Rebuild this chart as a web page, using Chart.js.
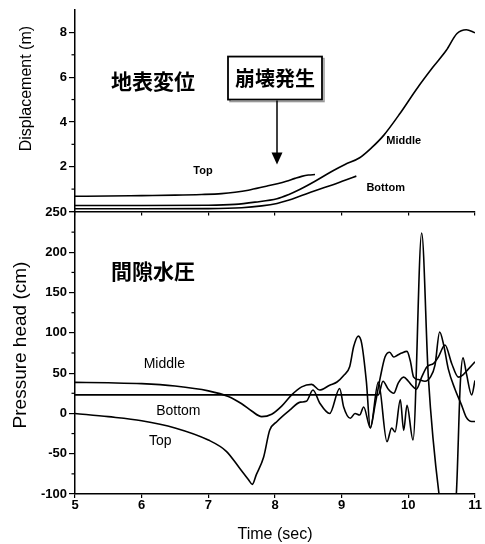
<!DOCTYPE html>
<html>
<head>
<meta charset="utf-8">
<script src="https://cdn.jsdelivr.net/npm/chart.js@4.4.1/dist/chart.umd.min.js"></script>
<style>
  body { margin: 0; background: #fff; }
  #wrap { position: relative; width: 485px; height: 544px; }
  #dispChart { position: absolute; left: 0; top: 0; }
  #pressChart { position: absolute; left: 0; top: 200px; }
</style>
</head>
<body>
<div id="wrap">
  <canvas id="dispChart" width="485" height="220"></canvas>
  <canvas id="pressChart" width="485" height="344"></canvas>
</div>
<script>
// axis ticks
const timeTicks = [5, 6, 7, 8, 9, 10, 11];
const dispTicks = [0, 2, 4, 6, 8];
const dispMinor = [1, 3, 5, 7];
const pressTicks = [-100, -50, 0, 50, 100, 150, 200, 250];
const pressMinor = [-75, -25, 25, 75, 125, 175, 225];

// surface displacement (m)
const dispTopT = [5, 5.5, 6, 6.5, 6.9, 7.2, 7.4, 7.6, 7.87, 8.05, 8.17, 8.3, 8.4, 8.5, 8.6];
const dispTopV = [0.68, 0.69, 0.71, 0.73, 0.76, 0.8, 0.86, 0.95, 1.13, 1.25, 1.35, 1.48, 1.57, 1.63, 1.65];
const dispMidT = [5, 6, 7, 7.4, 7.7, 8.03, 8.2, 8.37, 8.6, 8.87, 9.05, 9.27, 9.45, 9.63, 9.88, 10.12, 10.37, 10.57, 10.73, 10.87, 11];
const dispMidV = [0.27, 0.27, 0.28, 0.32, 0.42, 0.57, 0.75, 0.98, 1.35, 1.82, 2.1, 2.4, 2.85, 3.4, 4.4, 5.45, 6.45, 7.2, 7.95, 8.12, 7.98];
const dispBotT = [5, 6, 7, 7.5, 7.8, 8.03, 8.2, 8.37, 8.6, 8.87, 9.05, 9.22];
const dispBotV = [0.12, 0.12, 0.13, 0.17, 0.25, 0.36, 0.5, 0.68, 0.93, 1.2, 1.4, 1.58];

// pore water pressure head (cm)
const pressTopT = [5, 5.5, 6, 6.5, 7, 7.27, 7.47, 7.6, 7.66, 7.72, 7.83, 7.92, 8.03, 8.22, 8.38, 8.47, 8.57, 8.67, 8.82, 8.97, 9.03, 9.13, 9.2, 9.27, 9.33, 9.43, 9.55, 9.68, 9.75, 9.8, 9.88, 9.93, 9.98, 10.07, 10.2, 10.3, 10.46, 10.6, 10.72, 10.78, 10.82, 10.87, 10.95, 11];
const pressTopV = [0, -4, -9, -18, -33, -47, -68, -82, -88, -76, -54, -21, -10, 4, 14, 15, 29, 13, 0, 31, 8, -6, 0, -2, 8, -18, 39, -35, -18, -23, 17, -21, 10, -33, 224, 45, -100, -160, -100, 38, 69, 50, 23, 41];
const pressMidT = [5, 5.5, 6, 6.5, 7, 7.3, 7.5, 7.65, 7.8, 7.95, 8.1, 8.25, 8.4, 8.55, 8.67, 8.82, 8.93, 9.03, 9.12, 9.18, 9.25, 9.3, 9.37, 9.43, 9.5, 9.58, 9.65, 9.72, 9.78, 9.83, 9.9, 9.98, 10.03, 10.08, 10.15, 10.25, 10.33, 10.4, 10.47, 10.53, 10.6, 10.7, 10.8, 10.87, 10.95, 11];
const pressMidV = [38.5, 38, 37, 34, 28, 21, 12, 3, -4, -1, 9, 23, 33, 36, 29, 35, 39, 47, 58, 83, 96, 87, 40, -18, 10, 45, 70, 76, 70, 72, 75, 77, 65, 45, 42, 40, 45, 60, 101, 85, 55, 30, 10, -5, -10, -10];
const pressBotT = [5, 6, 7, 8, 9, 9.55, 9.62, 9.7, 9.78, 9.85, 9.93, 10.0, 10.05, 10.12, 10.2, 10.28, 10.38, 10.45, 10.55, 10.65, 10.75, 10.82, 10.9, 11];
const pressBotV = [23, 23, 23, 23, 23, 23, 40, 30, 25, 38, 45, 40, 35, 30, 45, 58, 62, 70, 85, 62, 45, 48, 55, 64];

const sans = '"Liberation Sans", Arial, sans-serif';
const jp = '"Noto Sans CJK JP", sans-serif';
const tickFont = { family: sans, size: 13, weight: 'bold', lineHeight: 1 };

function series(t, v) {
    return {
        data: t.map((x, i) => ({ x: x, y: v[i] })),
        borderColor: '#000',
        borderWidth: 1.6,
        pointRadius: 0,
        fill: false,
        cubicInterpolationMode: 'monotone'
    };
}

function fixedTicks(list) {
    return function(scale) {
        scale.ticks = list.map(v => ({ value: v }));
    };
}

// texts, minor ticks, box and arrow
const notesPlugin = {
    id: 'notes',
    afterDatasetsDraw(chart, args, opts) {
        const ctx = chart.ctx;
        const xs = chart.scales.x, ys = chart.scales.y;
        ctx.save();
        ctx.fillStyle = '#000';
        ctx.strokeStyle = '#000';
        (opts.minor || []).forEach(v => {
            const y = ys.getPixelForValue(v);
            ctx.fillRect(ys.right - 3.5, y - 0.6, 3.5, 1.2);
        });
        (opts.items || []).forEach(it => {
            ctx.save();
            ctx.translate(xs.getPixelForValue(it.x), ys.getPixelForValue(it.y));
            if (it.rotate) ctx.rotate(-Math.PI / 2);
            if (it.box) {
                const w = it.box[0], h = it.box[1];
                ctx.lineWidth = 1.5;
                ctx.strokeStyle = '#999';
                ctx.strokeRect(-w / 2 + 2, -h / 2 + 2, w, h);
                ctx.fillStyle = '#fff';
                ctx.fillRect(-w / 2, -h / 2, w, h);
                ctx.lineWidth = 1.8;
                ctx.strokeStyle = '#000';
                ctx.strokeRect(-w / 2, -h / 2, w, h);
                ctx.fillStyle = '#000';
            }
            ctx.font = it.font;
            ctx.textAlign = 'center';
            ctx.textBaseline = 'middle';
            ctx.fillText(it.text, 0, 0);
            ctx.restore();
        });
        if (opts.arrow) {
            const a = opts.arrow;
            const x = xs.getPixelForValue(a.x);
            const y0 = ys.getPixelForValue(a.from), y1 = ys.getPixelForValue(a.to);
            ctx.lineWidth = 1.5;
            ctx.beginPath();
            ctx.moveTo(x, y0);
            ctx.lineTo(x, y1 - 10);
            ctx.stroke();
            ctx.beginPath();
            ctx.moveTo(x - 5.5, y1 - 12);
            ctx.lineTo(x + 5.5, y1 - 12);
            ctx.lineTo(x, y1);
            ctx.closePath();
            ctx.fill();
        }
        ctx.restore();
    }
};

// top panel: displacement
new Chart(document.getElementById('dispChart'), {
    type: 'line',
    data: { datasets: [series(dispTopT, dispTopV), series(dispMidT, dispMidV), series(dispBotT, dispBotV)] },
    plugins: [notesPlugin],
    options: {
        responsive: false,
        animation: false,
        layout: { padding: { top: 10, right: 10, left: 0, bottom: 0 } },
        plugins: {
            legend: { display: false },
            tooltip: { enabled: false },
            notes: {
                minor: dispMinor,
                items: [
                    { text: 'Displacement (m)', x: 4.27, y: 5.49, font: '16px ' + sans, rotate: true },
                    { text: '地表変位', x: 6.17, y: 5.85, font: 'bold 21px ' + jp },
                    { text: '崩壊発生', x: 8.0, y: 5.96, font: 'bold 20px ' + jp, box: [94, 43] },
                    { text: 'Top', x: 6.92, y: 1.79, font: 'bold 11px ' + sans },
                    { text: 'Middle', x: 9.93, y: 3.17, font: 'bold 11px ' + sans },
                    { text: 'Bottom', x: 9.66, y: 1.03, font: 'bold 11px ' + sans }
                ],
                arrow: { x: 8.03, from: 4.96, to: 2.1 }
            }
        },
        scales: {
            x: {
                type: 'linear', min: 5, max: 11,
                afterBuildTicks: fixedTicks(timeTicks),
                afterFit: s => { s.height = 8; },
                ticks: { callback: () => '', autoSkip: false },
                grid: { drawOnChartArea: false, tickLength: 4, color: '#000', lineWidth: 1.2 },
                border: { color: '#000', width: 1.5 }
            },
            y: {
                type: 'linear', min: 0, max: 9,
                afterBuildTicks: fixedTicks(dispTicks),
                afterFit: s => { s.width = 75; },
                ticks: { callback: v => v === 0 ? '' : v, color: '#000', font: tickFont, padding: 2 },
                grid: { drawOnChartArea: false, tickLength: 6, color: '#000', lineWidth: 1.2 },
                border: { color: '#000', width: 1.5 }
            }
        }
    }
});

// bottom panel: pore water pressure
new Chart(document.getElementById('pressChart'), {
    type: 'line',
    data: { datasets: [series(pressTopT, pressTopV), series(pressMidT, pressMidV), series(pressBotT, pressBotV)] },
    plugins: [notesPlugin],
    options: {
        responsive: false,
        animation: false,
        layout: { padding: { top: 12, right: 10, left: 0, bottom: 0 } },
        plugins: {
            legend: { display: false },
            tooltip: { enabled: false },
            notes: {
                minor: pressMinor,
                items: [
                    { text: 'Pressure head (cm)', x: 4.19, y: 84.9, font: '19px ' + sans, rotate: true },
                    { text: '間隙水圧', x: 6.17, y: 176.8, font: 'bold 21px ' + jp },
                    { text: 'Middle', x: 6.34, y: 61.3, font: '14px ' + sans },
                    { text: 'Bottom', x: 6.55, y: 3, font: '14px ' + sans },
                    { text: 'Top', x: 6.28, y: -34, font: '14px ' + sans }
                ]
            }
        },
        scales: {
            x: {
                type: 'linear', min: 5, max: 11,
                afterBuildTicks: fixedTicks(timeTicks),
                afterFit: s => { s.height = 50; },
                ticks: { color: '#000', font: tickFont, autoSkip: false, maxRotation: 0, padding: 1 },
                grid: { drawOnChartArea: false, tickLength: 4, color: '#000', lineWidth: 1.2 },
                border: { color: '#000', width: 1.5 },
                title: { display: true, text: 'Time (sec)', color: '#000', font: { family: sans, size: 16 }, padding: 0 }
            },
            y: {
                type: 'linear', min: -100, max: 250,
                afterBuildTicks: fixedTicks(pressTicks),
                afterFit: s => { s.width = 75; },
                ticks: { color: '#000', font: tickFont, padding: 2 },
                grid: { drawOnChartArea: false, tickLength: 6, color: '#000', lineWidth: 1.2 },
                border: { color: '#000', width: 1.5 }
            }
        }
    }
});
</script>
</body>
</html>
